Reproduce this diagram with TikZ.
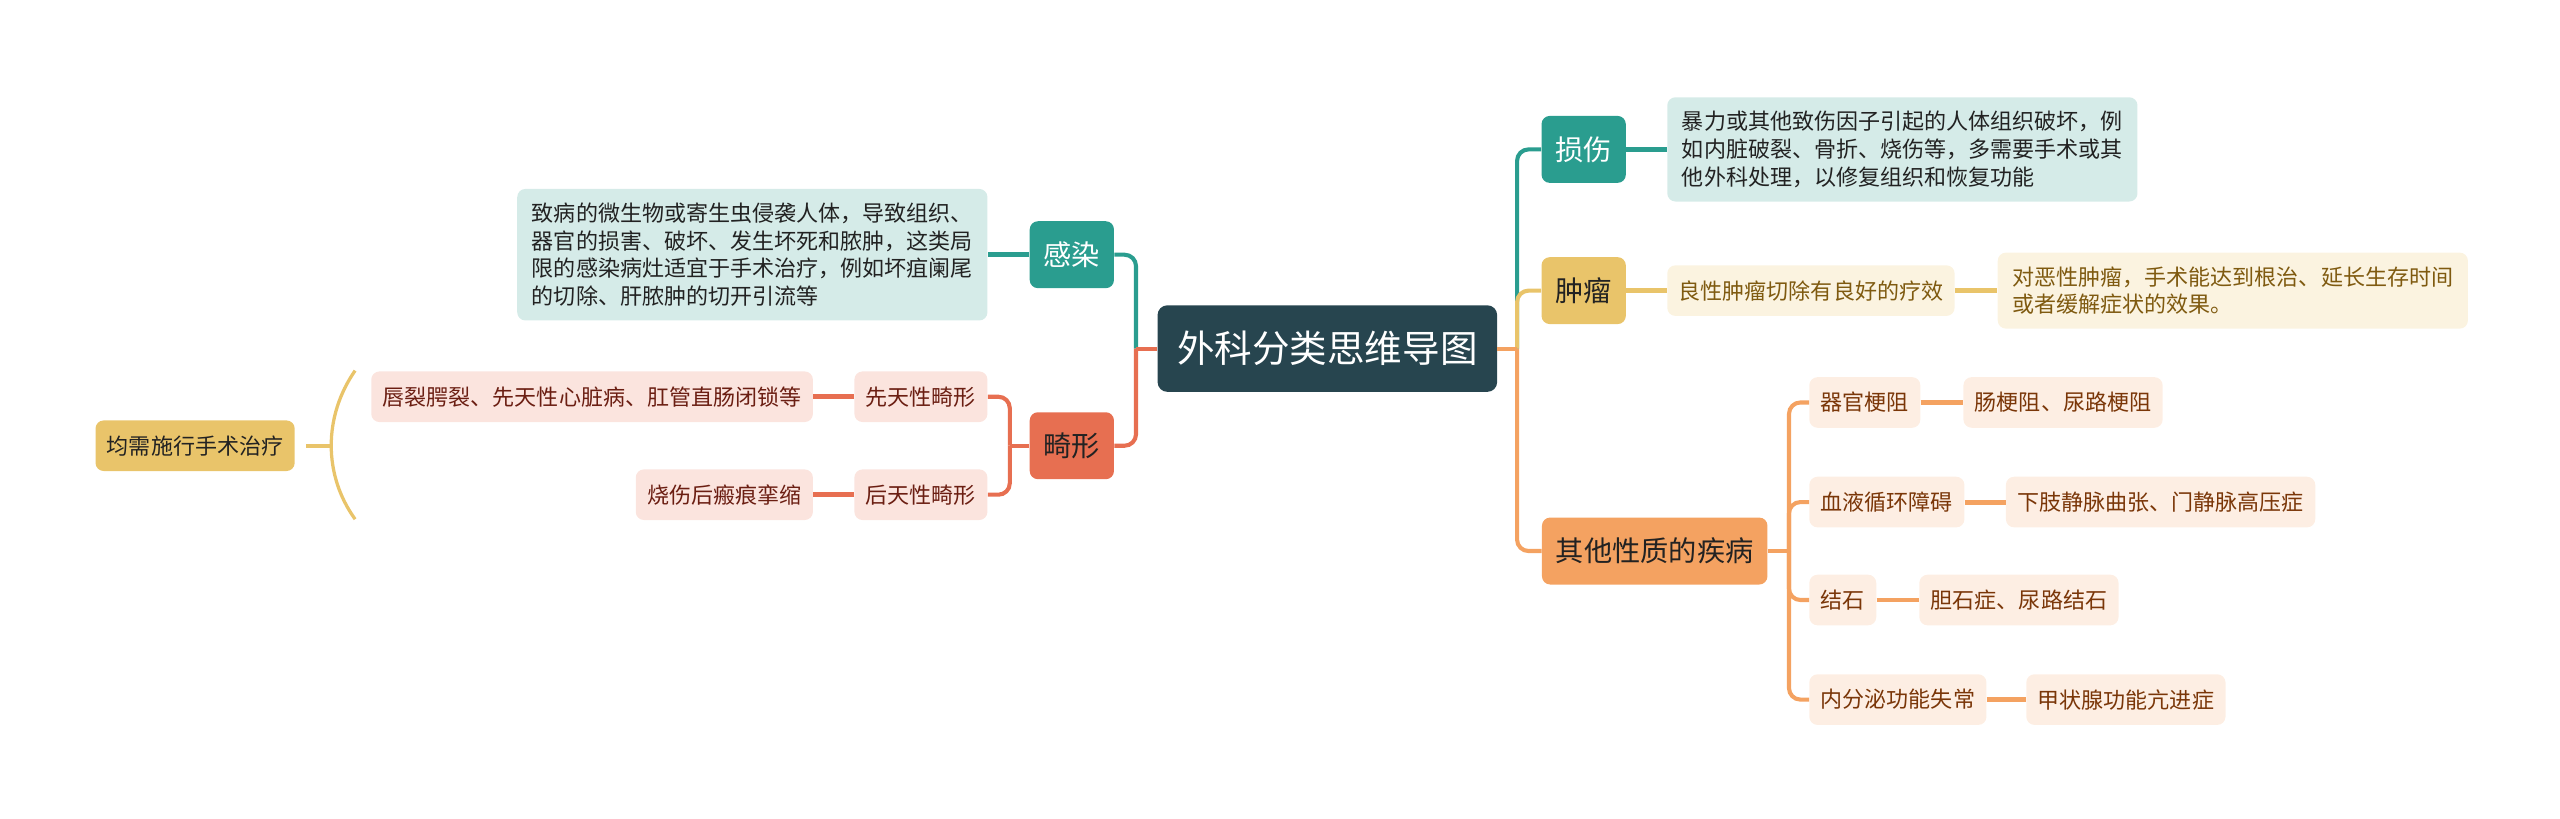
\documentclass[tikz,border=0pt]{standalone}
\usepackage{fontspec}
\setmainfont{Noto Sans CJK SC}
\usepackage{tikz}
\usetikzlibrary{positioning,calc}
\definecolor{rootc}{HTML}{27454F}
\definecolor{tealc}{HTML}{2A9D8F}
\definecolor{yelc}{HTML}{E9C46A}
\definecolor{orac}{HTML}{F4A261}
\definecolor{redc}{HTML}{E76F51}
\definecolor{teall}{HTML}{D5EBE8}
\definecolor{yell}{HTML}{FBF3E0}
\definecolor{oral}{HTML}{FDEEE3}
\definecolor{redl}{HTML}{FBE4DE}
\definecolor{yeltext}{HTML}{7F5A10}
\definecolor{oratext}{HTML}{7A3608}
\definecolor{redtext}{HTML}{6B1E12}
\definecolor{darktext}{HTML}{222222}
\tikzset{
	surgery map/.style={x=1pt, y=-1pt},
	root/.style={fill=rootc, text=white, rounded corners=6pt, minimum height=53pt,
		inner xsep=12pt, font=\fontsize{23}{28}\selectfont},
	branch/.style={fill=#1, text=darktext, rounded corners=5pt, minimum height=41pt,
		inner xsep=8.5pt, font=\fontsize{17.3}{20}\selectfont},
	leaf/.style 2 args={fill=#1, text=#2, rounded corners=5pt, minimum height=31pt,
		inner xsep=7pt, inner ysep=8.5pt, align=left, font=\fontsize{13.5}{17}\selectfont},
	wire/.style={draw=#1, line width=2.5pt, rounded corners=7pt},
	twig/.style={draw=#1, line width=3pt}
}

\begin{document}
\begin{tikzpicture}[surgery map]
	\useasboundingbox (0,0) rectangle (1568,501.6);
	\node[root] (C) at (813,213.5) {外科分类思维导图};
	% right
	\node[branch=tealc, text=white] (S) at (970,91.5) {损伤};
	\node[leaf={teall}{darktext}, inner xsep=9pt, anchor=west] (S1) at (1021,91.5)
		{暴力或其他致伤因子引起的人体组织破坏，例\\如内脏破裂、骨折、烧伤等，多需要手术或其\\他外科处理，以修复组织和恢复功能};
	\node[branch=yelc] (T) at (970,178) {肿瘤};
	\node[leaf={yell}{yeltext}, anchor=west] (T1) at (1021,178) {良性肿瘤切除有良好的疗效};
	\node[leaf={yell}{yeltext}, inner xsep=9pt, right=26pt of T1] (T2)
		{对恶性肿瘤，手术能达到根治、延长生存时间\\或者缓解症状的效果。};
	\node[branch=orac] (Q) at (1013.5,337.5) {其他性质的疾病};
	\node[leaf={oral}{oratext}, anchor=west] (Q1) at (1108,246.5) {器官梗阻};
	\node[leaf={oral}{oratext}, right=26pt of Q1] (Q1a) {肠梗阻、尿路梗阻};
	\node[leaf={oral}{oratext}, anchor=west] (Q2) at (1108,307.5) {血液循环障碍};
	\node[leaf={oral}{oratext}, right=25pt of Q2] (Q2a) {下肢静脉曲张、门静脉高压症};
	\node[leaf={oral}{oratext}, anchor=west] (Q3) at (1108,367.5) {结石};
	\node[leaf={oral}{oratext}, right=26pt of Q3] (Q3a) {胆石症、尿路结石};
	\node[leaf={oral}{oratext}, anchor=west] (Q4) at (1108,428.5) {内分泌功能失常};
	\node[leaf={oral}{oratext}, right=24pt of Q4] (Q4a) {甲状腺功能亢进症};
	% left
	\node[branch=tealc, text=white] (G) at (656.5,156) {感染};
	\node[leaf={teall}{darktext}, inner xsep=9pt, anchor=east] (G1) at (605,156)
		{致病的微生物或寄生虫侵袭人体，导致组织、\\器官的损害、破坏、发生坏死和脓肿，这类局\\限的感染病灶适宜于手术治疗，例如坏疽阑尾\\的切除、肝脓肿的切开引流等};
	\node[branch=redc] (J) at (656.5,273) {畸形};
	\node[leaf={redl}{redtext}, anchor=east] (J1) at (605,243) {先天性畸形};
	\node[leaf={redl}{redtext}, left=25pt of J1] (J1a) {唇裂腭裂、先天性心脏病、肛管直肠闭锁等};
	\node[leaf={redl}{redtext}, anchor=east] (J2) at (605,303) {后天性畸形};
	\node[leaf={redl}{redtext}, left=25pt of J2] (J2a) {烧伤后瘢痕挛缩};
	\node[leaf={yelc}{darktext}] (Y) at (119.5,273) {均需施行手术治疗};
	\coordinate (braceTop) at (217.5,227);
	\coordinate (braceBot) at (217.5,318);
	\coordinate (braceMid) at (203,273);
	% connectors
	\coordinate (Cr) at ($(C.east)+(12,0)$);
	\coordinate (Cl) at ($(C.west)+(-13,0)$);
	\coordinate (Qr) at ($(Q.east)+(13,0)$);
	\coordinate (Jl) at ($(J.west)+(-12,0)$);
	\draw[wire=tealc] (Cr) |- (S.west);
	\draw[wire=yelc] (Cr) |- (T.west);
	\draw[wire=orac] (Cr) |- (Q.west);
	\draw[wire=orac] (C.east) -- (Cr);
	\draw[wire=tealc] (Cl) |- (G.east);
	\draw[wire=redc] (Cl) |- (J.east);
	\draw[wire=redc] (C.west) -- (Cl);
	\foreach \n in {Q1,Q2,Q3,Q4} \draw[wire=orac] (Qr) |- (\n.west);
	\draw[wire=orac] (Q.east) -- (Qr);
	\foreach \n in {J1,J2} \draw[wire=redc] (Jl) |- (\n.east);
	\draw[wire=redc] (J.west) -- (Jl);
	\draw[twig=tealc] (S) -- (S1);
	\draw[twig=tealc] (G) -- (G1);
	\draw[twig=yelc] (T) -- (T1);
	\draw[twig=yelc] (T1) -- (T2);
	\foreach \n in {Q1,Q2,Q3,Q4} \draw[twig=orac] (\n) -- (\n a);
	\foreach \n in {J1,J2} \draw[twig=redc] (\n) -- (\n a);
	\draw[draw=yelc, line width=2pt] (braceTop) .. controls (198,255) and (198,291) .. (braceBot);
	\draw[twig=yelc, line width=2.5pt, shorten <=7pt] (Y) -- (braceMid);
\end{tikzpicture}
\end{document}
